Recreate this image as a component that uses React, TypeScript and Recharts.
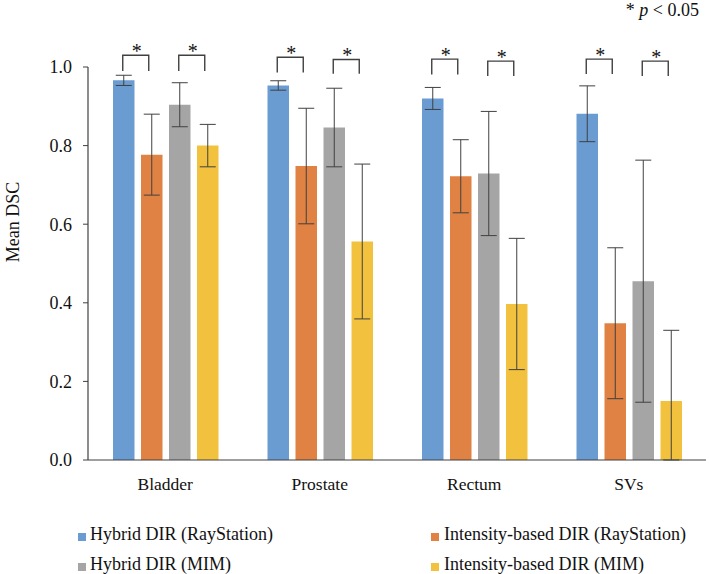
import React from 'react';
import { BarChart, Bar, XAxis, YAxis, ErrorBar } from 'recharts';

const categories = ['Bladder', 'Prostate', 'Rectum', 'SVs'];

const hybridRS = [0.966, 0.953, 0.92, 0.881];
const hybridRSErr = [0.013, 0.012, 0.028, 0.071];
const intensityRS = [0.777, 0.748, 0.722, 0.348];
const intensityRSErr = [0.103, 0.147, 0.093, 0.192];
const hybridMIM = [0.904, 0.846, 0.729, 0.455];
const hybridMIMErr = [0.056, 0.1, 0.158, 0.308];
const intensityMIM = [0.8, 0.556, 0.397, 0.15];
const intensityMIMErr = [0.054, 0.197, 0.167, 0.18];

const yTicks = [0, 0.2, 0.4, 0.6, 0.8, 1.0];

// significance brackets (RayStation pair, MIM pair): top and leg-end values
const bracketTopRS = [1.03, 1.025, 1.02, 1.02];
const bracketLegRS = [0.99, 0.986, 0.981, 0.982];
const bracketTopMIM = [1.03, 1.019, 1.015, 1.015];
const bracketLegMIM = [0.99, 0.983, 0.977, 0.977];

const seriesNames = [
  'Hybrid DIR (RayStation)',
  'Intensity-based DIR (RayStation)',
  'Hybrid DIR (MIM)',
  'Intensity-based DIR (MIM)',
];
const colors = ['#6A9BD1', '#DF8243', '#A5A5A5', '#F2C13E'];

const FONT = '"Liberation Serif", "Times New Roman", serif';
const AXIS = '#404040';
const BAR_SIZE = 21.5;
const BAR_GAP = 6.5;

const errPair = (v: number, e: number) => [Math.min(e, v), e];

const data = categories.map((name, i) => ({
  name,
  s0: hybridRS[i],
  e0: errPair(hybridRS[i], hybridRSErr[i]),
  s1: intensityRS[i],
  e1: errPair(intensityRS[i], intensityRSErr[i]),
  s2: hybridMIM[i],
  e2: errPair(hybridMIM[i], hybridMIMErr[i]),
  s3: intensityMIM[i],
  e3: errPair(intensityMIM[i], intensityMIMErr[i]),
}));

const makeBracket = (values: number[], tops: number[], legs: number[]) => (props: any) => {
  const vb = props.viewBox ?? props;
  const { x, y, width, height } = vb;
  const i = props.index;
  const v = values[i];
  if (!height || !v) return null;
  const base = y + height;
  const k = height / v;
  const yt = base - tops[i] * k;
  const yl = base - legs[i] * k;
  const x1 = x + width / 2 - 1;
  const x2 = x + width / 2 + width + BAR_GAP - 3;
  return (
    <g key={`br-${i}`}>
      <path d={`M${x1},${yl}V${yt}H${x2}V${yl}`} fill="none" stroke={AXIS} strokeWidth={1.4} />
      <text x={(x1 + x2) / 2 + 1} y={yt + 2.5} textAnchor="middle" fontSize={20} fontFamily={FONT} fill="#111">
        *
      </text>
    </g>
  );
};

const YLabel = () => (
  <text
    x={13}
    y={222}
    transform="rotate(-90, 13, 222)"
    textAnchor="middle"
    dominantBaseline="central"
    fontSize={18}
    fontFamily={FONT}
    fill="#111"
  >
    Mean DSC
  </text>
);

const legendPos = [
  { sx: 77.5, tx: 90, base: 540 },
  { sx: 431, tx: 444, base: 540 },
  { sx: 77.5, tx: 90, base: 570 },
  { sx: 431, tx: 444, base: 570 },
];

export default function App() {
  return (
    <div style={{ position: 'absolute', left: 0, top: 0, width: 709, height: 574, background: '#fff', fontFamily: FONT }}>
      <BarChart
        width={709}
        height={574}
        data={data}
        margin={{ top: 67, right: 3, bottom: 84, left: 0 }}
        barSize={BAR_SIZE}
        barGap={BAR_GAP}
      >
        <XAxis
          dataKey="name"
          height={30}
          axisLine={{ stroke: AXIS, strokeWidth: 1.2 }}
          tickLine={false}
          tickSize={6}
          tickMargin={12}
          tick={{ fontSize: 17.5, fontFamily: FONT, fill: '#111' }}
          interval={0}
        />
        <YAxis
          width={88}
          domain={[0, 1]}
          ticks={yTicks}
          tickFormatter={(v: number) => v.toFixed(1)}
          axisLine={{ stroke: AXIS, strokeWidth: 1.2 }}
          tickLine={{ stroke: AXIS }}
          tickSize={5}
          tickMargin={11}
          tick={{ fontSize: 18, fontFamily: FONT, fill: '#111' }}
          label={<YLabel />}
        />
        <Bar dataKey="s0" fill={colors[0]} isAnimationActive={false} label={makeBracket(hybridRS, bracketTopRS, bracketLegRS)}>
          <ErrorBar dataKey="e0" width={8} stroke={AXIS} strokeWidth={1} direction="y" />
        </Bar>
        <Bar dataKey="s1" fill={colors[1]} isAnimationActive={false}>
          <ErrorBar dataKey="e1" width={8} stroke={AXIS} strokeWidth={1} direction="y" />
        </Bar>
        <Bar dataKey="s2" fill={colors[2]} isAnimationActive={false} label={makeBracket(hybridMIM, bracketTopMIM, bracketLegMIM)}>
          <ErrorBar dataKey="e2" width={8} stroke={AXIS} strokeWidth={1} direction="y" />
        </Bar>
        <Bar dataKey="s3" fill={colors[3]} isAnimationActive={false}>
          <ErrorBar dataKey="e3" width={8} stroke={AXIS} strokeWidth={1} direction="y" />
        </Bar>
      </BarChart>

      <div style={{ position: 'absolute', right: 10, top: 0, fontSize: 18, lineHeight: '20px', color: '#111', whiteSpace: 'nowrap' }}>
        * <i>p</i> &lt; 0.05
      </div>

      {seriesNames.map((n, i) => (
        <React.Fragment key={n}>
          <div
            style={{
              position: 'absolute',
              left: legendPos[i].sx,
              top: legendPos[i].base - 7,
              width: 8,
              height: 8,
              background: colors[i],
            }}
          />
          <div
            style={{
              position: 'absolute',
              left: legendPos[i].tx,
              top: legendPos[i].base - 16,
              fontSize: 18,
              lineHeight: '20px',
              color: '#111',
              whiteSpace: 'nowrap',
            }}
          >
            {n}
          </div>
        </React.Fragment>
      ))}
    </div>
  );
}
